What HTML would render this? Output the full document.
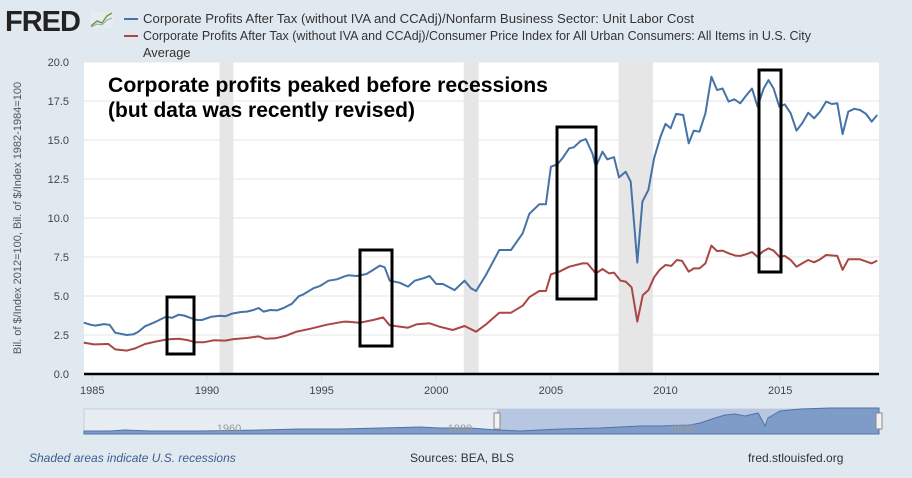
<!DOCTYPE html>
<html><head><meta charset="utf-8"><style>
body{margin:0;width:912px;height:478px;background:#e1e9f0;overflow:hidden;font-family:"Liberation Sans",sans-serif}
svg{display:block}
</style></head><body>
<svg width="912" height="478" xmlns="http://www.w3.org/2000/svg">
<g>
<text x="5" y="31" font-size="29" font-weight="bold" fill="#222" font-family="Liberation Sans, sans-serif" letter-spacing="-1">FRED</text>
<rect x="90" y="12" width="23" height="16" fill="#e8ecef"/>
<polyline points="91,26 97,21 102,23 107,16 112,13" fill="none" stroke="#6c9d4a" stroke-width="1.5"/>
<polyline points="91,27 97,24 102,25 107,20 112,18" fill="none" stroke="#88aabb" stroke-width="1"/>
</g>
<g font-size="12" fill="#333">
<line x1="124" y1="19" x2="138" y2="19" stroke="#4572a7" stroke-width="2"/>
<text x="143" y="23" textLength="551" lengthAdjust="spacingAndGlyphs" font-size="12.8">Corporate Profits After Tax (without IVA and CCAdj)/Nonfarm Business Sector: Unit Labor Cost</text>
<line x1="124" y1="36" x2="138" y2="36" stroke="#aa4643" stroke-width="2"/>
<text x="143" y="40" textLength="668" lengthAdjust="spacingAndGlyphs" font-size="12.8">Corporate Profits After Tax (without IVA and CCAdj)/Consumer Price Index for All Urban Consumers: All Items in U.S. City</text>
<text x="143" y="57" font-size="12.8">Average</text>
</g>
<rect x="84" y="62" width="795" height="312" fill="#fff"/>
<g id="rec"></g><g id="grid"></g><g id="yt"></g><g id="xt"></g><g id="series"></g>
<line x1="84" y1="374" x2="879" y2="374" stroke="#000" stroke-width="2.5"/>
<text transform="translate(21,218) rotate(-90)" text-anchor="middle" font-size="11" fill="#555">Bil. of $/Index 2012=100, Bil. of $/Index 1982-1984=100</text>
<g font-size="21" font-weight="bold" fill="#000">
<text x="108" y="92" textLength="440" lengthAdjust="spacingAndGlyphs">Corporate profits peaked before recessions</text>
<text x="108" y="117">(but data was recently revised)</text>
</g>
<g fill="none" stroke="#000" stroke-width="3">
<rect x="167" y="297" width="27" height="57"/>
<rect x="360" y="250" width="32" height="96"/>
<rect x="557" y="127" width="39" height="172"/>
<rect x="759" y="70" width="22" height="202"/>
</g>
<g>
<rect x="84" y="409" width="795" height="25" fill="#e8edf3" stroke="#ccd" stroke-width="1"/>
<rect x="497" y="409" width="382" height="25" fill="#b7c7e2"/>
<polygon points="84,434 84,431 110,431 125,430 150,431 200,431 260,430 300,429 340,429 380,428 420,427 440,428 470,428 497,430 520,431 560,429 600,428 620,427 640,426 660,426 690,425 700,423 715,418 725,415 735,414 745,416 758,413 762,420 765,426 768,418 780,411 800,409 830,408 850,408 879,408 879,434" fill="#7f9cc8" stroke="#4e72aa" stroke-width="1"/>
<text x="229" y="432" font-size="11" fill="#999" text-anchor="middle">1960</text>
<text x="460" y="432" font-size="11" fill="#999" text-anchor="middle">1980</text>
<text x="683" y="432" font-size="11" fill="#999" text-anchor="middle">2000</text>
<rect x="494" y="413" width="6" height="16" fill="#f2f2f2" stroke="#888"/>
<rect x="876" y="413" width="6" height="16" fill="#f2f2f2" stroke="#888"/>
</g>
<text x="29" y="462" font-size="12" font-style="italic" fill="#3d5d8f">Shaded areas indicate U.S. recessions</text>
<text x="410" y="462" font-size="12" fill="#333">Sources: BEA, BLS</text>
<text x="748" y="462" font-size="12" fill="#333">fred.stlouisfed.org</text>
</svg>
<script>
const blueYears=[1984.63,1984.92,1985.13,1985.5,1985.76,1986.0,1986.5,1986.8,1987.0,1987.3,1987.75,1988.2,1988.48,1988.77,1989.0,1989.27,1989.56,1989.78,1990.2,1990.58,1990.8,1991.1,1991.45,1991.74,1992.03,1992.25,1992.47,1992.76,1993.05,1993.34,1993.7,1994.0,1994.2,1994.65,1994.94,1995.3,1995.67,1995.96,1996.16,1996.52,1996.96,1997.25,1997.54,1997.75,1997.97,1998.4,1998.77,1999.06,1999.42,1999.71,2000.0,2000.29,2000.8,2001.23,2001.52,2001.74,2002.17,2002.75,2003.26,2003.77,2004.06,2004.49,2004.78,2005.0,2005.29,2005.5,2005.8,2006.0,2006.3,2006.52,2006.81,2006.96,2007.25,2007.46,2007.75,2007.97,2008.26,2008.48,2008.77,2008.99,2009.25,2009.5,2009.78,2010.0,2010.22,2010.46,2010.77,2011.01,2011.23,2011.48,2011.74,2012.0,2012.25,2012.49,2012.75,2013.0,2013.26,2013.48,2013.77,2014.01,2014.28,2014.49,2014.71,2014.96,2015.2,2015.46,2015.71,2015.96,2016.22,2016.48,2016.74,2017.0,2017.25,2017.49,2017.72,2017.97,2018.23,2018.48,2018.74,2018.99,2019.23];
const blueValues=[3.29,3.16,3.1,3.2,3.15,2.65,2.5,2.55,2.7,3.06,3.34,3.66,3.6,3.8,3.75,3.6,3.46,3.46,3.67,3.73,3.7,3.87,3.97,4.0,4.1,4.23,4.0,4.1,4.08,4.23,4.5,4.98,5.1,5.5,5.65,5.98,6.07,6.24,6.33,6.28,6.41,6.67,6.95,6.84,5.98,5.85,5.6,5.98,6.13,6.28,5.77,5.77,5.38,5.98,5.49,5.32,6.35,7.95,7.95,9.02,10.26,10.88,10.88,13.29,13.44,13.83,14.47,14.53,14.94,15.06,14.14,13.29,14.25,13.76,13.9,12.6,12.97,12.33,7.14,11.05,11.8,13.83,15.21,16.03,15.75,16.67,16.6,14.79,15.6,15.53,16.71,19.06,18.2,18.3,17.46,17.61,17.35,17.78,18.3,17.14,18.3,18.84,18.3,17.14,17.28,16.71,15.6,16.07,16.75,16.39,16.82,17.46,17.31,17.35,15.38,16.82,17.0,16.92,16.67,16.18,16.6];
const redYears=[1984.63,1985.06,1985.7,1986.0,1986.5,1986.87,1987.3,1987.75,1988.26,1988.77,1989.13,1989.5,1989.86,1990.29,1990.8,1991.16,1991.74,1992.25,1992.54,1992.98,1993.42,1993.92,1994.5,1995.23,1995.96,1996.09,1996.67,1997.25,1997.68,1997.97,1998.77,1999.13,1999.71,2000.14,2000.72,2001.23,2001.74,2002.17,2002.75,2003.26,2003.77,2004.06,2004.49,2004.78,2005.0,2005.36,2005.8,2006.38,2006.59,2006.96,2007.25,2007.54,2007.75,2008.04,2008.26,2008.52,2008.77,2009.01,2009.25,2009.5,2009.74,2010.0,2010.25,2010.49,2010.72,2011.01,2011.23,2011.48,2011.74,2012.0,2012.25,2012.49,2012.75,2013.04,2013.26,2013.51,2013.77,2014.01,2014.23,2014.49,2014.71,2014.96,2015.2,2015.46,2015.71,2015.96,2016.22,2016.48,2016.74,2017.0,2017.49,2017.72,2017.97,2018.48,2018.99,2019.23];
const redValues=[2.01,1.9,1.92,1.58,1.5,1.64,1.92,2.07,2.22,2.26,2.18,2.03,2.03,2.16,2.14,2.24,2.31,2.41,2.26,2.29,2.44,2.72,2.9,3.16,3.35,3.36,3.29,3.46,3.63,3.12,2.97,3.18,3.25,3.03,2.82,3.08,2.71,3.18,3.93,3.93,4.38,4.92,5.32,5.32,6.39,6.56,6.88,7.09,7.09,6.45,6.73,6.45,6.5,5.98,5.92,5.56,3.36,5.06,5.38,6.2,6.67,6.99,6.93,7.31,7.25,6.56,6.77,6.77,7.09,8.23,7.88,7.91,7.74,7.59,7.57,7.67,7.82,7.52,7.84,8.05,7.91,7.52,7.57,7.31,6.88,7.09,7.31,7.16,7.35,7.63,7.57,6.67,7.35,7.35,7.09,7.27];
const yTicks=[0,2.5,5,7.5,10,12.5,15,17.5,20];
const yTickLabels=["0.0","2.5","5.0","7.5","10.0","12.5","15.0","17.5","20.0"];
const xTicks=[1985,1990,1995,2000,2005,2010,2015];
const recessionStarts=[1990.55,2001.2,2007.95];
const recessionEnds=[1991.15,2001.85,2009.45];
const NS='http://www.w3.org/2000/svg';
const xs=y=>92.3+(y-1985)*22.93;
const ys=v=>374-v*15.6;
function mk(tag,attrs,parent){const e=document.createElementNS(NS,tag);for(const k in attrs)e.setAttribute(k,attrs[k]);document.getElementById(parent).appendChild(e);return e;}
recessionStarts.forEach((s,i)=>{const r=mk('rect',{x:xs(s),y:62,width:xs(recessionEnds[i])-xs(s),height:312,fill:'#e6e6e6'},'rec');

});
yTicks.forEach((t,i)=>{if(t>0){const l=mk('line',{x1:84,x2:879,y1:ys(t),y2:ys(t),stroke:'#e6e6e6','stroke-width':1},'grid');

}
const tx=mk('text',{x:69,y:ys(t)+4,'text-anchor':'end','font-size':11,fill:'#444'},'yt');tx.textContent=yTickLabels[i];

});
xTicks.forEach(t=>{mk('line',{x1:xs(t),x2:xs(t),y1:375,y2:381,stroke:'#ccd6eb'},'xt');
const tx=mk('text',{x:xs(t),y:394,'text-anchor':'middle','font-size':11,fill:'#444'},'xt');tx.textContent=t;

});
function line(yrs,vals,color,name){const p=mk('polyline',{points:yrs.map((y,i)=>xs(y).toFixed(1)+','+ys(vals[i]).toFixed(1)).join(' '),fill:'none',stroke:color,'stroke-width':2,'stroke-linejoin':'round'},'series');

}
line(blueYears,blueValues,'#4572a7','series-unit-labor-cost');
line(redYears,redValues,'#aa4643','series-cpi');
</script>
</body></html>
